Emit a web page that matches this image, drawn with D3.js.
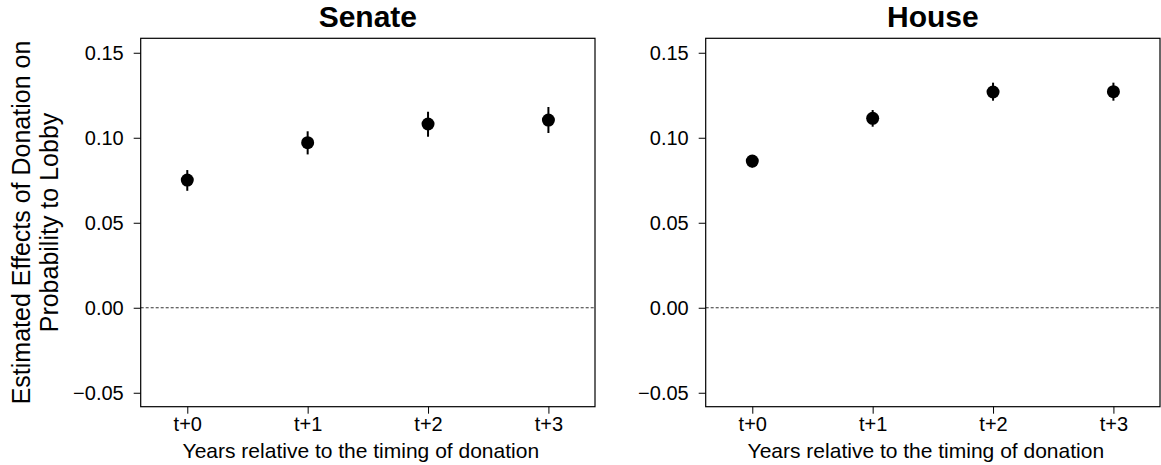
<!DOCTYPE html>
<html>
<head>
<meta charset="utf-8">
<script src="https://cdn.jsdelivr.net/npm/d3@7"></script>
<style>
  html, body { margin: 0; padding: 0; background: #fff; }
  svg { display: block; font-family: "Liberation Sans", Arial, Helvetica, sans-serif; }
</style>
</head>
<body>
<svg id="chart" width="1161" height="465"></svg>
<script>
// ---- data ----
const categories = ["t+0", "t+1", "t+2", "t+3"];
const yTicks = [-0.05, 0.00, 0.05, 0.10, 0.15];

const senateEst = [0.0751, 0.0971, 0.1081, 0.1104];
const senateLo  = [0.0688, 0.0902, 0.1006, 0.1028];
const senateHi  = [0.0810, 0.1038, 0.1153, 0.1181];

const houseEst = [0.0863, 0.1114, 0.1269, 0.1271];
const houseLo  = [0.0824, 0.1065, 0.1218, 0.1218];
const houseHi  = [0.0898, 0.1163, 0.1324, 0.1324];

const panelTitles = ["Senate", "House"];
const xLabel = "Years relative to the timing of donation";
const yLabelLines = ["Estimated Effects of Donation on", "Probability to Lobby"];

// ---- layout ----
const svg = d3.select("#chart");
const plotTop = 38.3, plotBottom = 406.7;
const panels = [
  { title: panelTitles[0], left: 140.7, right: 595, est: senateEst, lo: senateLo, hi: senateHi },
  { title: panelTitles[1], left: 705.7, right: 1160, est: houseEst, lo: houseLo, hi: houseHi }
];

const y = d3.scaleLinear().domain([-0.0582, 0.1585]).range([plotBottom, plotTop]);
const fmt = d3.format(".2f");
const tickFmt = v => (v < 0 ? "\u2212" : "") + fmt(Math.abs(v));

panels.forEach(p => {
  const x = d3.scaleLinear().domain([-0.387, categories.length - 1 + 0.387]).range([p.left, p.right]);
  const g = svg.append("g");

  // zero reference line
  g.append("line")
    .attr("x1", p.left).attr("x2", p.right)
    .attr("y1", y(0)).attr("y2", y(0))
    .attr("stroke", "#333").attr("stroke-width", 1)
    .attr("stroke-dasharray", "3,2");

  // y axis
  const yAxis = d3.axisLeft(y).tickValues(yTicks).tickFormat(tickFmt).tickSize(7).tickPadding(10);
  const ya = g.append("g").attr("transform", `translate(${p.left},0)`).call(yAxis);
  ya.select(".domain").remove();
  ya.selectAll("line").attr("stroke", "#000");
  ya.selectAll("text").attr("font-size", 20).attr("fill", "#000")
    .attr("font-family", "'Liberation Sans', Arial, sans-serif");

  // x axis
  const xAxis = d3.axisBottom(x).tickValues(d3.range(categories.length))
    .tickFormat(i => categories[i]).tickSize(7).tickPadding(3);
  const xa = g.append("g").attr("transform", `translate(0,${plotBottom})`).call(xAxis);
  xa.select(".domain").remove();
  xa.selectAll("line").attr("stroke", "#000");
  xa.selectAll("text").attr("font-size", 20).attr("fill", "#000")
    .attr("font-family", "'Liberation Sans', Arial, sans-serif");

  // box
  g.append("rect")
    .attr("x", p.left).attr("y", plotTop)
    .attr("width", p.right - p.left).attr("height", plotBottom - plotTop)
    .attr("fill", "none").attr("stroke", "#000").attr("stroke-width", 1.2);

  // error bars
  g.selectAll(".eb").data(categories).enter().append("line")
    .attr("x1", (d, i) => x(i)).attr("x2", (d, i) => x(i))
    .attr("y1", (d, i) => y(p.lo[i])).attr("y2", (d, i) => y(p.hi[i]))
    .attr("stroke", "#000").attr("stroke-width", 2);

  // points
  g.selectAll(".pt").data(categories).enter().append("circle")
    .attr("cx", (d, i) => x(i)).attr("cy", (d, i) => y(p.est[i]))
    .attr("r", 6.5).attr("fill", "#000");

  // title
  g.append("text")
    .attr("x", (p.left + p.right) / 2).attr("y", 27)
    .attr("text-anchor", "middle").attr("font-size", 30).attr("font-weight", "bold")
    .text(p.title);

  // x label
  g.append("text")
    .attr("x", (p.left + p.right) / 2 - 7).attr("y", 458)
    .attr("text-anchor", "middle").attr("font-size", 21)
    .text(xLabel);
});

// y label (two lines)
const cy = (plotTop + plotBottom) / 2;
[30, 58].forEach((bx, k) => {
  svg.append("text")
    .attr("transform", `translate(${bx},${cy}) rotate(-90)`)
    .attr("text-anchor", "middle").attr("font-size", 25)
    .text(yLabelLines[k]);
});
</script>
</body>
</html>
